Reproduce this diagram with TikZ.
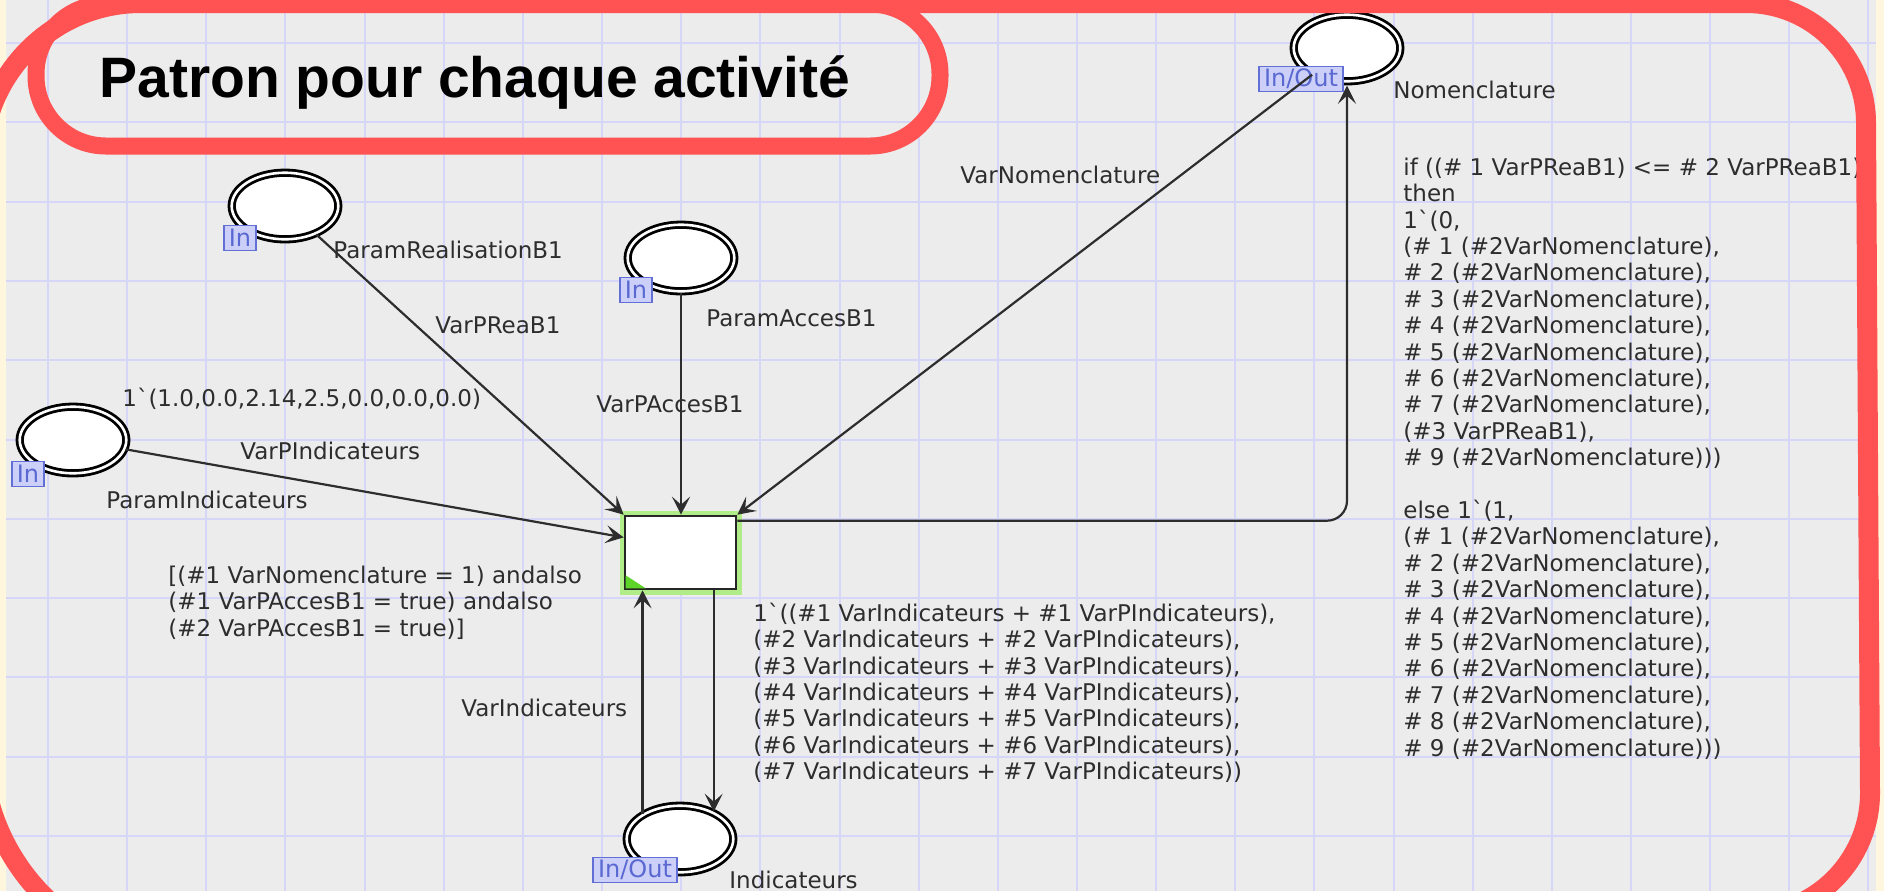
\documentclass[tikz,border=0pt]{standalone}
\usepackage{fontspec}
\newfontfamily\cpnfont{DejaVu Sans}
\newfontfamily\titlefont{Liberation Sans}
\usetikzlibrary{arrows.meta,calc,shapes.geometric}

\definecolor{pagecream}{RGB}{255,246,222}
\definecolor{canvasgray}{RGB}{236,236,236}
\definecolor{gridblue}{RGB}{214,214,248}
\definecolor{framered}{RGB}{255,82,82}
\definecolor{inktext}{RGB}{45,45,45}
\definecolor{arcink}{RGB}{45,45,45}
\definecolor{tagfill}{RGB}{204,208,248}
\definecolor{tagedge}{RGB}{98,112,214}
\definecolor{tagtext}{RGB}{90,104,210}
\definecolor{glowgreen}{RGB}{176,236,136}
\definecolor{cornergreen}{RGB}{95,212,40}

\pgfdeclarelayer{bgl}
\pgfdeclarelayer{tagl}
\pgfdeclarelayer{arcl}
\pgfdeclarelayer{frontl}
\pgfsetlayers{bgl,main,tagl,arcl,frontl}

\begin{document}
\begin{tikzpicture}[x=0.5pt,y=-0.5pt,
  place/.style={ellipse, draw=black, double=white, double distance=1.3pt,
    line width=1.4pt, fill=white, minimum width=53.3pt, minimum height=33.3pt, inner sep=0pt},
  trans/.style={rectangle, draw=black!85, line width=1.3pt, fill=white,
    minimum width=55.5pt, minimum height=36.5pt, inner sep=0pt,
    preaction={draw=glowgreen, line width=5.5pt}},
  porttag/.style={rectangle, draw=tagedge, line width=0.9pt, fill=tagfill, text=tagtext,
    font=\cpnfont\fontsize{12}{12}\selectfont, inner xsep=2.5pt, inner ysep=0.5pt,
    minimum height=12.5pt},
  lbl/.style={font=\cpnfont\fontsize{11.5}{13.2}\selectfont, text=inktext,
    inner sep=0pt, anchor=base west},
  block/.style={lbl, align=left, anchor=north west},
  arc/.style={draw=arcink, line width=1.1pt, -{Stealth[length=9pt,width=9pt,inset=4pt]}},
  redframe/.style={draw=framered, line width=10pt, line join=round},
  gridline/.style={draw=gridblue, line width=1pt}
]
\useasboundingbox (0,0) rectangle (1884,891);

% ---------- background: page, canvas, grid ----------
\begin{pgfonlayer}{bgl}
  \fill[pagecream] (0,0) rectangle (1884,891);
  \fill[canvasgray] (6,0) rectangle (1876,891);
  \foreach \i in {0,...,23}
    \draw[gridline] ({48+79.15*\i},0) -- ({48+79.15*\i},891);
  \foreach \j in {0,...,10}
    \draw[gridline] (6,{43+79.3*\j}) -- (1876,{43+79.3*\j});
\end{pgfonlayer}

% ---------- places and transition ----------
\node[place] (pR)  at (285,206) {};
\node[place] (pA)  at (681,258) {};
\node[place] (pI)  at (73,440) {};
\node[place] (nom) at (1347,48) {};
\node[place] (ind) at (680,839) {};
\node[trans] (t)   at (680.5,552.5) {};
\coordinate (tg) at ($(t.south west)+(2,-2)$);
\fill[cornergreen] (tg) -- ($(tg)+(0,-13)$) -- ($(tg)+(20,0)$) -- cycle;

% ---------- port tags ----------
\begin{pgfonlayer}{tagl}
  \node[porttag] (pRtag)  at ($(pR)+(-45,32)$) {In};
  \node[porttag] (pAtag)  at ($(pA)+(-45,32)$) {In};
  \node[porttag] (pItag)  at ($(pI)+(-45,34)$) {In};
  \node[porttag] (nomtag) at ($(nom)+(-46,31)$) {In/Out};
  \node[porttag] (indtag) at ($(ind)+(-45,31)$) {In/Out};
\end{pgfonlayer}

% ---------- labels ----------
\node[lbl] (lpR)   at (333,258) {ParamRealisationB1};
\node[lbl] (lvr)   at (435,333) {VarPReaB1};
\node[lbl] (lpA)   at (706,326) {ParamAccesB1};
\node[lbl] (lva)   at (596,412) {VarPAccesB1};
\node[lbl] (lvn)   at (960,183) {VarNomenclature};
\node[lbl] (lnom)  at (1393,98) {Nomenclature};
\node[lbl] (linit) at (122,406) {1\textasciigrave(1.0,0.0,2.14,2.5,0.0,0.0,0.0)};
\node[lbl] (lvpi)  at (240,459) {VarPIndicateurs};
\node[lbl] (lpI)   at (106,508) {ParamIndicateurs};
\node[lbl] (lvi)   at (461,716) {VarIndicateurs};
\node[lbl] (lind)  at (729,888) {Indicateurs};

\node[block] (guard) at (168,564.5) {\strut[(\#1 VarNomenclature = 1) andalso\\
(\#1 VarPAccesB1 = true) andalso\\
(\#2 VarPAccesB1 = true)]};

\node[block] (outexpr) at (753,602.5) {\strut 1\textasciigrave((\#1 VarIndicateurs + \#1 VarPIndicateurs),\\
(\#2 VarIndicateurs + \#2 VarPIndicateurs),\\
(\#3 VarIndicateurs + \#3 VarPIndicateurs),\\
(\#4 VarIndicateurs + \#4 VarPIndicateurs),\\
(\#5 VarIndicateurs + \#5 VarPIndicateurs),\\
(\#6 VarIndicateurs + \#6 VarPIndicateurs),\\
(\#7 VarIndicateurs + \#7 VarPIndicateurs))};

\node[block] (nomexpr) at (1403,156.5) {\strut if ((\# 1 VarPReaB1) <= \# 2 VarPReaB1)\\
then\\
1\textasciigrave(0,\\
(\# 1 (\#2VarNomenclature),\\
\# 2 (\#2VarNomenclature),\\
\# 3 (\#2VarNomenclature),\\
\# 4 (\#2VarNomenclature),\\
\# 5 (\#2VarNomenclature),\\
\# 6 (\#2VarNomenclature),\\
\# 7 (\#2VarNomenclature),\\
(\#3 VarPReaB1),\\
\# 9 (\#2VarNomenclature)))\\[13.2pt]
else 1\textasciigrave(1,\\
(\# 1 (\#2VarNomenclature),\\
\# 2 (\#2VarNomenclature),\\
\# 3 (\#2VarNomenclature),\\
\# 4 (\#2VarNomenclature),\\
\# 5 (\#2VarNomenclature),\\
\# 6 (\#2VarNomenclature),\\
\# 7 (\#2VarNomenclature),\\
\# 8 (\#2VarNomenclature),\\
\# 9 (\#2VarNomenclature)))};

% ---------- arcs ----------
\begin{pgfonlayer}{arcl}
  \coordinate (tl) at ($(t.north west)!0.3!(t.south west)$);
  \coordinate (tr) at ($(t.north east)+(0,6)$);
  \draw[arc] (pR) -- (t.north west);
  \draw[arc] (pA) -- (pA |- t.north);
  \draw[arc] (nom) -- (t.north east);
  \draw[arc] (pI) -- (tl);
  \draw[arc, rounded corners=10pt, shorten >=1.5pt] (tr) -- (tr -| nom.south) -- (nom.south);
  \draw[arc] (t.south -| ind.39) -- (ind.39);
  \draw[arc] (ind.146) -- (ind.146 |- t.south);
\end{pgfonlayer}

% ---------- red frames and title ----------
\begin{pgfonlayer}{frontl}
  \draw[redframe] (-18,162) .. controls (-18,74.2) and (53.2,3) .. (141,3)
    -- (1746,3) .. controls (1812.3,3) and (1866,56.7) .. (1866,123)
    -- (1870,793) .. controls (1870,860.4) and (1815.4,915) .. (1748,915)
    -- (193,958) .. controls (76.5,958) and (-18,863.5) .. (-18,747) -- cycle;
  \draw[redframe, line width=8.5pt, rounded corners=35pt] (36,4) rectangle (940,146);
  \node[font=\titlefont\bfseries\fontsize{28.5}{32}\selectfont, anchor=base west,
    inner sep=0pt, text=black] (title) at (99,97) {Patron pour chaque activité};
\end{pgfonlayer}
\end{tikzpicture}
\end{document}
